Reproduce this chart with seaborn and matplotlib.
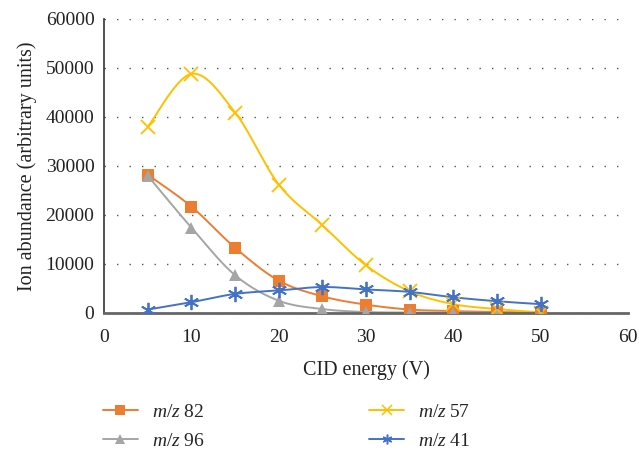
import matplotlib
matplotlib.use("Agg")
import matplotlib.pyplot as plt
import seaborn as sns
import pandas as pd
import numpy as np

# data
energy = [5, 10, 15, 20, 25, 30, 35, 40, 45, 50]
mz82 = [28200, 21700, 13300, 6600, 3400, 1700, 700, 400, 200, 100]
mz96 = [28000, 17400, 7700, 2500, 800, 200, 100, 50, 20, 0]
mz57 = [38000, 48800, 40900, 26200, 17900, 9700, 4400, 1800, 800, 100]
mz41 = [700, 2200, 3900, 4600, 5300, 4800, 4300, 3200, 2400, 1800]

series = [
    ("82", mz82, "#ED7D31", "s", 9),
    ("96", mz96, "#A5A5A5", "^", 9),
    ("57", mz57, "#FFC000", "x", 10),
    ("41", mz41, "#4472C4", (6, 2, 0), 11),
]


def smooth(xs, ys, n=24):
    """Excel-like smoothed line: bezier segments with catmull-rom control points."""
    p = np.column_stack([xs, ys]).astype(float)
    p = np.vstack([p[0], p, p[-1]])
    out = []
    t = np.linspace(0, 1, n)[:, None]
    for i in range(1, len(p) - 2):
        p0, p1 = p[i], p[i + 1]
        c1 = p0 + (p[i + 1] - p[i - 1]) / 6
        c2 = p1 - (p[i + 2] - p[i]) / 6
        seg = (1 - t) ** 3 * p0 + 3 * (1 - t) ** 2 * t * c1 + 3 * (1 - t) * t ** 2 * c2 + t ** 3 * p1
        out.append(seg if i == 1 else seg[1:])
    out = np.vstack(out)
    return out[:, 0], out[:, 1]


sns.set_style("white")
plt.rcParams["font.family"] = ["Liberation Serif", "DejaVu Serif"]
plt.rcParams["mathtext.fontset"] = "custom"
plt.rcParams["mathtext.it"] = "Liberation Serif:italic"
plt.rcParams["mathtext.rm"] = "Liberation Serif"

fig = plt.figure(figsize=(6.39, 4.51), dpi=100)
ax = fig.add_axes([0.163, 0.306, 0.82, 0.652])

handles = []
for name, vals, color, marker, ms in series:
    sx, sy = smooth(energy, vals)
    sns.lineplot(x=sx, y=sy, sort=False, color=color, lw=1.4, ax=ax, zorder=2)
    df = pd.DataFrame({"x": energy, "y": vals})
    filled = marker in ("s", "^")
    ax.plot(df["x"], df["y"], ls="none", marker=marker, ms=ms, color=color,
            mew=1.3 if not filled else 0, zorder=3)
    h, = ax.plot([], [], color=color, lw=1.4, marker=marker,
                 ms=7.5 if filled else 7, mew=1.1 if not filled else 0)
    handles.append((h, f"$m/z$ {name}"))

ax.set_xlim(0, 60)
ax.set_ylim(0, 60000)
ax.set_xticks(range(0, 61, 10))
ax.set_yticks(range(0, 60001, 10000))
ax.yaxis.grid(True, linestyle=(0, (1, 8)), color="#555555", lw=1.0)
ax.xaxis.grid(False)
for s in ["top", "right"]:
    ax.spines[s].set_visible(False)
ax.spines["left"].set_color("#333333")
ax.spines["left"].set_linewidth(1.2)
ax.spines["bottom"].set_color("#666666")
ax.spines["bottom"].set_linewidth(2.0)
ax.tick_params(axis="both", direction="inout", length=7, width=1.2,
               colors="#333333", labelsize=14, labelcolor="#222222")
ax.tick_params(axis="x", pad=8)
ax.tick_params(axis="y", length=6, pad=4)
ax.set_xlabel("CID energy (V)", fontsize=14.5, color="#222222", labelpad=10)
ax.set_ylabel("Ion abundance (arbitrary units)", fontsize=14.5, color="#222222", labelpad=6)

leg = fig.legend([h for h, _ in handles], [lab for _, lab in handles],
                 ncol=2, loc="upper left", bbox_to_anchor=(0.161, 0.105),
                 frameon=False, fontsize=14, handlelength=1.8, borderpad=0,
                 borderaxespad=0, columnspacing=8.45, labelspacing=0.55,
                 handletextpad=0.72)

fig.savefig("out.png", dpi=100)
